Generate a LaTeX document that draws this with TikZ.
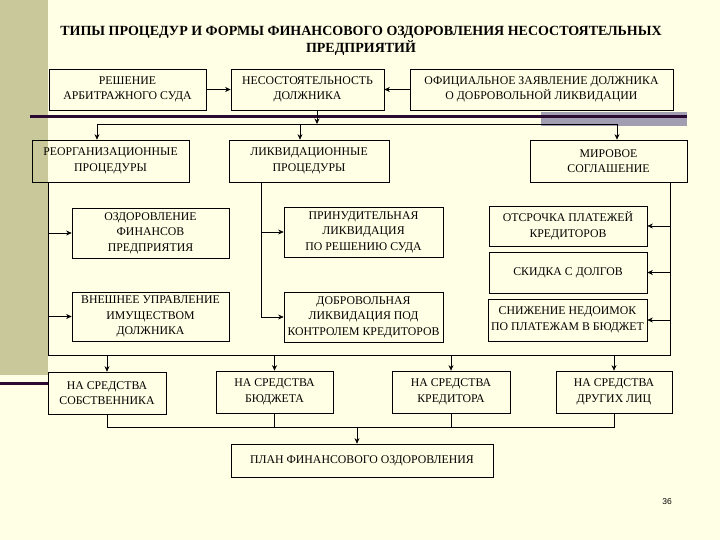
\documentclass[tikz,border=0pt]{standalone}
\usepackage{fontspec}
\setmainfont{Liberation Serif}
\newfontfamily\numfont{Liberation Sans}
\usetikzlibrary{arrows.meta}
\definecolor{bgcream}{HTML}{FFFFE5}
\definecolor{olive}{HTML}{C8C89B}
\definecolor{darkpurple}{HTML}{2A0A30}
\definecolor{graypurple}{HTML}{A29EB2}
\tikzset{
  box/.style={draw, line width=0.7pt, inner sep=0pt, align=center,
    font=\fontsize{11.8}{15.5}\selectfont},
  arr/.style={-{Stealth[length=5.5pt,width=5pt]}, line width=0.7pt},
  ln/.style={line width=0.7pt}
}
\begin{document}
\begin{tikzpicture}[x=1pt,y=-1pt]
\useasboundingbox (0,0) rectangle (720,540);
% background
\fill[bgcream] (0,0) rectangle (720,540);
\fill[olive] (0,0) rectangle (48,375);
\fill[darkpurple] (0,381.5) rectangle (48,384.5);
\fill[graypurple] (541,112) rectangle (687,126);
\fill[darkpurple] (30,115.5) rectangle (687,118.5);
% title
\node[font=\bfseries\fontsize{14}{17}\selectfont, align=center] (title) at (361,41)
  {ТИПЫ ПРОЦЕДУР И ФОРМЫ ФИНАНСОВОГО ОЗДОРОВЛЕНИЯ НЕСОСТОЯТЕЛЬНЫХ\\ПРЕДПРИЯТИЙ};
% boxes
\node[box, minimum width=157pt, minimum height=41pt] (b1) at (127.5,89.5) {РЕШЕНИЕ\\АРБИТРАЖНОГО СУДА};
\node[box, minimum width=153pt, minimum height=41pt] (b2) at (307.5,89.5) {НЕСОСТОЯТЕЛЬНОСТЬ\\ДОЛЖНИКА};
\node[box, minimum width=263pt, minimum height=41pt] (b3) at (541.5,89.5) {ОФИЦИАЛЬНОЕ ЗАЯВЛЕНИЕ ДОЛЖНИКА\\О ДОБРОВОЛЬНОЙ ЛИКВИДАЦИИ};
\node[box, minimum width=157pt, minimum height=42pt] (b4) at (110.5,161) {РЕОРГАНИЗАЦИОННЫЕ\\ПРОЦЕДУРЫ};
\node[box, minimum width=160pt, minimum height=42pt] (b5) at (309,161) {ЛИКВИДАЦИОННЫЕ\\ПРОЦЕДУРЫ};
\node[box, minimum width=157pt, minimum height=42pt] (b6) at (608.5,161) {МИРОВОЕ\\СОГЛАШЕНИЕ};
\node[box, minimum width=157pt, minimum height=50pt] (b7) at (150.5,233) {ОЗДОРОВЛЕНИЕ\\ФИНАНСОВ\\ПРЕДПРИЯТИЯ};
\node[box, minimum width=159pt, minimum height=50pt] (b8) at (363.5,232) {ПРИНУДИТЕЛЬНАЯ\\ЛИКВИДАЦИЯ\\ПО РЕШЕНИЮ СУДА};
\node[box, minimum width=157pt, minimum height=49pt] (b9) at (150.5,316.5) {ВНЕШНЕЕ УПРАВЛЕНИЕ\\ИМУЩЕСТВОМ\\ДОЛЖНИКА};
\node[box, minimum width=159pt, minimum height=50pt] (b10) at (363.5,317) {ДОБРОВОЛЬНАЯ\\ЛИКВИДАЦИЯ ПОД\\КОНТРОЛЕМ КРЕДИТОРОВ};
\node[box, minimum width=158pt, minimum height=40pt] (b11) at (568,226) {ОТСРОЧКА ПЛАТЕЖЕЙ\\КРЕДИТОРОВ};
\node[box, minimum width=158pt, minimum height=41pt] (b12) at (568,272.5) {СКИДКА С ДОЛГОВ};
\node[box, minimum width=159pt, minimum height=42pt] (b13) at (567.5,320) {СНИЖЕНИЕ НЕДОИМОК\\ПО ПЛАТЕЖАМ В БЮДЖЕТ};
\node[box, minimum width=118pt, minimum height=42pt] (b14) at (107,393) {НА СРЕДСТВА\\СОБСТВЕННИКА};
\node[box, minimum width=117pt, minimum height=42pt] (b15) at (274.5,392) {НА СРЕДСТВА\\БЮДЖЕТА};
\node[box, minimum width=118pt, minimum height=42pt] (b16) at (451,392) {НА СРЕДСТВА\\КРЕДИТОРА};
\node[box, minimum width=116pt, minimum height=42pt] (b17) at (614,392) {НА СРЕДСТВА\\ДРУГИХ ЛИЦ};
\node[box, minimum width=262pt, minimum height=33pt] (b18) at (362,460.5) {ПЛАН ФИНАНСОВОГО ОЗДОРОВЛЕНИЯ};
\node[font=\numfont\fontsize{8.5}{10}\selectfont] (pg) at (667,502) {36};
% coordinates
\coordinate (t2) at (317,124);
\coordinate (hL) at (97,124);
\coordinate (hM) at (300,124);
\coordinate (hR) at (617,124);
\coordinate (fL) at (48,355);
\coordinate (fR) at (670,355);
\coordinate (lq) at (261,317);
\coordinate (cb) at (357,427);
% top arrows
\draw[arr] (b1.east) -- (b2.west);
\draw[arr] (b3.west) -- (b2.east);
\draw[arr] (t2 |- b2.south) -- (t2);
\draw[ln] (hL) -- (hR);
\draw[arr] (hL) -- (hL |- b4.north);
\draw[arr] (hM) -- (hM |- b5.north);
\draw[arr] (hR) -- (hR |- b6.north);
% frame
\draw[ln] (fL |- b4.south) -- (fL) -- (fR) -- (fR |- b6.south);
\draw[arr] (fL |- b7.west) -- (b7.west);
\draw[arr] (fL |- b9.west) -- (b9.west);
\draw[ln] (lq |- b5.south) -- (lq);
\draw[arr] (lq |- b8.west) -- (b8.west);
\draw[arr] (lq |- b10.west) -- (b10.west);
\draw[arr] (fR |- b11.east) -- (b11.east);
\draw[arr] (fR |- b12.east) -- (b12.east);
\draw[arr] (fR |- b13.east) -- (b13.east);
% bottom arrows
\draw[arr] (fL -| b14.north) -- (b14.north);
\draw[arr] (fL -| b15.north) -- (b15.north);
\draw[arr] (fL -| b16.north) -- (b16.north);
\draw[arr] (fL -| b17.north) -- (b17.north);
% collection
\draw[ln] (b14.south) -- (cb -| b14.south) -- (cb -| b17.south) -- (b17.south);
\draw[ln] (b15.south) -- (cb -| b15.south);
\draw[ln] (b16.south) -- (cb -| b16.south);
\draw[arr] (cb) -- (cb |- b18.north);
\end{tikzpicture}
\end{document}
